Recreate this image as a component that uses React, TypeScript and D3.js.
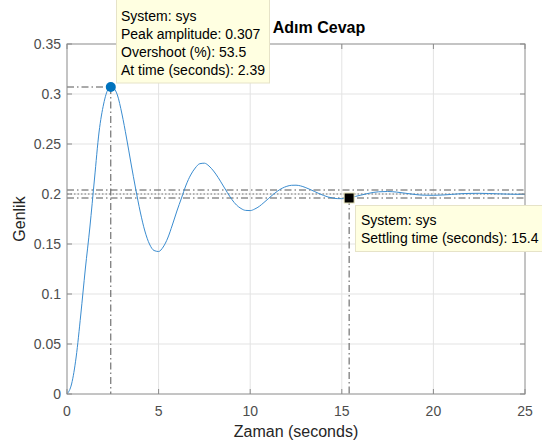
import React, { useEffect, useRef } from 'react';
import * as d3 from 'd3';

// step response
const timeValues = [
  0, 0.25, 0.5, 0.75, 1.0, 1.25, 1.5, 1.75, 2.0, 2.25, 2.39, 2.5, 2.75, 3.0, 3.25, 3.5, 3.75,
  4.0, 4.25, 4.5, 4.75, 5.0, 5.25, 5.5, 5.75, 6.0, 6.25, 6.5, 6.75, 7.0, 7.25, 7.5, 7.75,
  8.0, 8.25, 8.5, 8.75, 9.0, 9.25, 9.5, 9.75, 10.0, 10.25, 10.5, 10.75, 11.0, 11.25, 11.5, 11.75,
  12.0, 12.25, 12.5, 12.75, 13.0, 13.25, 13.5, 13.75, 14.0, 14.25, 14.5, 14.75, 15.0, 15.25, 15.5, 15.75,
  16.0, 16.5, 17.0, 17.5, 18.0, 18.5, 19.0, 19.5, 20.0, 20.5, 21.0, 21.5, 22.0, 22.5, 23.0, 23.5,
  24.0, 24.5, 25.0,
];
const amplitudeValues = [
  0, 0.01, 0.037, 0.079, 0.125, 0.167, 0.215, 0.262, 0.29, 0.305, 0.307, 0.3065, 0.299, 0.28, 0.256, 0.23, 0.205,
  0.182, 0.163, 0.15, 0.1435, 0.1425, 0.147, 0.156, 0.169, 0.183, 0.196, 0.209, 0.219, 0.226, 0.2303, 0.2308, 0.228,
  0.223, 0.2165, 0.209, 0.2015, 0.1945, 0.189, 0.1855, 0.1836, 0.1834, 0.185, 0.1877, 0.1915, 0.1955, 0.1995, 0.203, 0.2058,
  0.2077, 0.2087, 0.2088, 0.2081, 0.2066, 0.2047, 0.2026, 0.2005, 0.1986, 0.197, 0.196, 0.1954, 0.1953, 0.1957, 0.1965, 0.1976,
  0.1987, 0.2008, 0.2022, 0.2025, 0.2019, 0.2007, 0.1995, 0.1988, 0.1987, 0.199, 0.1996, 0.2003, 0.2006, 0.2007, 0.2005, 0.2002,
  0.1999, 0.1997, 0.1997,
];

const xTicks = [0, 5, 10, 15, 20, 25];
const yTicks = [0, 0.05, 0.1, 0.15, 0.2, 0.25, 0.3, 0.35];

const peakTime = 2.39;
const peakAmplitude = 0.307;
const finalValue = 0.2;
const bandValues = [0.204, 0.196];
const settlingTime = 15.4;
const settlingAmplitude = 0.196;

const peakTipLines = ['System: sys', 'Peak amplitude: 0.307', 'Overshoot (%): 53.5', 'At time (seconds): 2.39'];
const settlingTipLines = ['System: sys', 'Settling time (seconds): 15.4'];

const FONT = '"Liberation Sans", Arial, Helvetica, sans-serif';

const App = () => {
  const svgRef = useRef<SVGSVGElement | null>(null);

  useEffect(() => {
    const width = 542;
    const height = 441;
    const margin = { left: 67, right: 17, top: 44, bottom: 47 };
    const svg = d3.select(svgRef.current);
    svg.selectAll('*').remove();

    const x = d3.scaleLinear().domain([0, 25]).range([margin.left, width - margin.right]);
    const y = d3.scaleLinear().domain([0, 0.35]).range([height - margin.bottom, margin.top]);
    const [x0, x1] = x.range();
    const [y0, y1] = y.range();

    svg.append('rect').attr('width', width).attr('height', height).attr('fill', '#fff');

    // grid
    const grid = svg.append('g').attr('stroke', '#e3e3e3').attr('stroke-width', 1);
    xTicks.slice(1, -1).forEach((t) => {
      grid.append('line').attr('x1', x(t)).attr('x2', x(t)).attr('y1', y0).attr('y2', y1);
    });
    yTicks.slice(1, -1).forEach((t) => {
      grid.append('line').attr('x1', x0).attr('x2', x1).attr('y1', y(t)).attr('y2', y(t));
    });

    // characteristic lines
    const dashDot = '7,3,1.5,3';
    const marks = svg.append('g').attr('stroke', '#555').attr('stroke-width', 1).attr('fill', 'none');
    bandValues.forEach((v) => {
      marks.append('line').attr('x1', x0).attr('x2', x1).attr('y1', y(v)).attr('y2', y(v))
        .attr('stroke-dasharray', dashDot);
    });
    marks.append('line').attr('x1', x0).attr('x2', x1).attr('y1', y(finalValue)).attr('y2', y(finalValue))
      .attr('stroke', '#777').attr('stroke-dasharray', '1.5,2');
    marks.append('line').attr('x1', x0).attr('x2', x(peakTime)).attr('y1', y(peakAmplitude)).attr('y2', y(peakAmplitude))
      .attr('stroke-dasharray', dashDot);
    marks.append('line').attr('x1', x(peakTime)).attr('x2', x(peakTime)).attr('y1', y(peakAmplitude)).attr('y2', y0)
      .attr('stroke-dasharray', dashDot);
    marks.append('line').attr('x1', x(settlingTime)).attr('x2', x(settlingTime)).attr('y1', y(settlingAmplitude)).attr('y2', y0)
      .attr('stroke-dasharray', dashDot);

    // response curve
    const points = timeValues.map((t, i) => [t, amplitudeValues[i]] as [number, number]);
    const line = d3.line<[number, number]>()
      .x((d) => x(d[0]))
      .y((d) => y(d[1]))
      .curve(d3.curveMonotoneX);
    svg.append('path').datum(points).attr('d', line).attr('fill', 'none')
      .attr('stroke', '#3a8cd0').attr('stroke-width', 1);

    // axes box + inward ticks
    const axis = svg.append('g').attr('stroke', '#8a8a8a').attr('stroke-width', 1).attr('fill', 'none');
    axis.append('rect').attr('x', x0).attr('y', y1).attr('width', x1 - x0).attr('height', y0 - y1);
    const tl = 5;
    xTicks.forEach((t) => {
      axis.append('line').attr('x1', x(t)).attr('x2', x(t)).attr('y1', y0).attr('y2', y0 - tl);
      axis.append('line').attr('x1', x(t)).attr('x2', x(t)).attr('y1', y1).attr('y2', y1 + tl);
    });
    yTicks.forEach((t) => {
      axis.append('line').attr('x1', x0).attr('x2', x0 + tl).attr('y1', y(t)).attr('y2', y(t));
      axis.append('line').attr('x1', x1).attr('x2', x1 - tl).attr('y1', y(t)).attr('y2', y(t));
    });

    // tick labels
    const labels = svg.append('g').attr('font-family', FONT).attr('font-size', 14).attr('fill', '#4d4d4d');
    xTicks.forEach((t) => {
      labels.append('text').attr('x', x(t)).attr('y', y0 + 22).attr('text-anchor', 'middle').text(String(t));
    });
    yTicks.forEach((t) => {
      labels.append('text').attr('x', x0 - 6).attr('y', y(t) + 5).attr('text-anchor', 'end').text(String(t));
    });

    // axis titles
    svg.append('text').attr('x', (x0 + x1) / 2).attr('y', 437).attr('text-anchor', 'middle')
      .attr('font-family', FONT).attr('font-size', 16).attr('fill', '#262626').text('Zaman (seconds)');
    svg.append('text').attr('transform', `translate(25,${(y0 + y1) / 2}) rotate(-90)`).attr('text-anchor', 'middle')
      .attr('font-family', FONT).attr('font-size', 16).attr('fill', '#262626').text('Genlik');
    svg.append('text').attr('x', 319).attr('y', 33).attr('text-anchor', 'middle')
      .attr('font-family', FONT).attr('font-size', 16).attr('font-weight', 'bold').attr('fill', '#000').text('Adım Cevap');

    // markers
    svg.append('circle').attr('cx', x(peakTime)).attr('cy', y(peakAmplitude)).attr('r', 5).attr('fill', '#0072BD');
    svg.append('rect').attr('x', x(settlingTime) - 5).attr('y', y(settlingAmplitude) - 5).attr('width', 10).attr('height', 10)
      .attr('fill', '#000').attr('stroke', '#e6e3b8').attr('stroke-width', 1);

    // data tips
    const tip = (bx: number, by: number, bw: number, bh: number, lines: string[], tx: number, ty: number) => {
      const g = svg.append('g');
      g.append('rect').attr('x', bx).attr('y', by).attr('width', bw).attr('height', bh)
        .attr('fill', '#ffffe1').attr('stroke', '#e6e3c8').attr('stroke-width', 1);
      lines.forEach((s, i) => {
        g.append('text').attr('x', tx).attr('y', ty + i * 18.3)
          .attr('font-family', FONT).attr('font-size', 14).attr('fill', '#000').text(s);
      });
    };
    tip(116.5, -1, 153, 84, peakTipLines, 121, 20.5);
    tip(355.5, 205.5, 190, 46, settlingTipLines, 361, 225);
  }, []);

  return (
    <svg ref={svgRef} width={542} height={441} style={{ position: 'fixed', left: 0, top: 0, display: 'block' }}></svg>
  );
};

export default App;
